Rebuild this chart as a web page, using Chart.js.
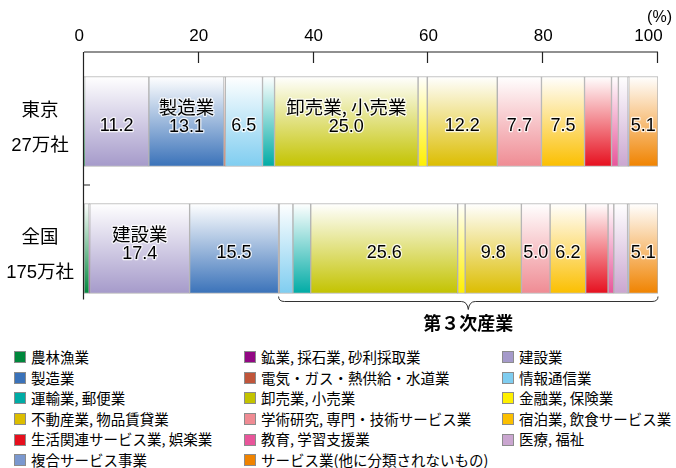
<!DOCTYPE html>
<html lang="ja">
<head>
<meta charset="utf-8">
<script src="https://cdn.jsdelivr.net/npm/chart.js@4.4.1/dist/chart.umd.min.js"></script>
<style>
  body { margin: 0; background: #fff; }
  #wrap { position: relative; width: 676px; height: 468px; overflow: hidden; }
  #chart { position: absolute; left: 0; top: 0; }
  #legend {
    position: absolute; left: 14px; top: 347px;
    display: grid; grid-template-columns: 230px 258px 160px;
    font: 14.5px "Noto Sans CJK JP", sans-serif; color: #000;
  }
  .item { display: flex; align-items: center; height: 20.6px; white-space: nowrap; line-height: 1; }
  .box { width: 10px; height: 10px; border: 1px solid #8c8c8c; margin-right: 5px; flex: none; }
</style>
</head>
<body>
<div id="wrap">
  <canvas id="chart" width="676" height="340"></canvas>
  <div id="legend"></div>
</div>
<script>
// 業種別の企業等数の構成比 (%)
const regions = [["東京", "27万社"], ["全国", "175万社"]];
const industries = [
    "農林漁業",
    "鉱業, 採石業, 砂利採取業",
    "建設業",
    "製造業",
    "電気・ガス・熱供給・水道業",
    "情報通信業",
    "運輸業, 郵便業",
    "卸売業, 小売業",
    "金融業, 保険業",
    "不動産業, 物品賃貸業",
    "学術研究, 専門・技術サービス業",
    "宿泊業, 飲食サービス業",
    "生活関連サービス業, 娯楽業",
    "教育, 学習支援業",
    "医療, 福祉",
    "複合サービス事業",
    "サービス業(他に分類されないもの)"
];
const tokyoShare = [0.1, 0.0, 11.2, 13.1, 0.2, 6.5, 2.1, 25.0, 1.6, 12.2, 7.7, 7.5, 4.7, 1.2, 1.7, 0.1, 5.1];
const zenkokuShare = [0.9, 0.1, 17.4, 15.5, 0.1, 2.4, 3.1, 25.6, 1.3, 9.8, 5.0, 6.2, 3.9, 1.0, 2.4, 0.2, 5.1];
const xTicks = [0, 20, 40, 60, 80, 100];

// 棒の中に業種名も書くもの (地域ごとの系列番号)
const namedSegments = [[3, 7], [2]];
// 第3次産業は電気・ガス以降
const tertiaryFrom = 4;

const colors = [
    "#00873c", "#920783", "#a59aca", "#3a72b9", "#c0553a", "#7fcdf0",
    "#00aba5", "#c3c300", "#fff000", "#dcbd00", "#ef8b93", "#fbbf00",
    "#e60f1e", "#e8559a", "#caa6d0", "#7b98cf", "#f08300"
];

const barThickness = 90;
const numFont = "Liberation Sans, 'Noto Sans CJK JP', sans-serif";
const jpFont = "'Noto Sans CJK JP', sans-serif";

function barFill(color) {
    return function(context) {
        const chart = context.chart;
        const y = chart.scales.y;
        if (context.type !== "data" || !y || !chart.chartArea) return color;
        const mid = y.getPixelForValue(context.dataIndex);
        if (!isFinite(mid)) return color;
        const g = chart.ctx.createLinearGradient(0, mid - barThickness / 2, 0, mid + barThickness / 2);
        g.addColorStop(0, "#ffffff");
        g.addColorStop(1, color);
        return g;
    };
}

// 目盛りラベルのはみ出し分で描画域が縮まないようにする
function fixedSize(prop, size) {
    return function(scale) {
        scale[prop] = size;
        scale.paddingLeft = 0;
        scale.paddingRight = 0;
        scale.paddingTop = 0;
        scale.paddingBottom = 0;
    };
}

const datasets = industries.map(function(name, i) {
    return {
        label: name,
        data: [tokyoShare[i], zenkokuShare[i]],
        backgroundColor: barFill(colors[i]),
        borderColor: "#b2b2b2",
        borderWidth: 1,
        borderSkipped: false,
        barThickness: barThickness
    };
});

// 上の目盛り線と左の軸線
const axisLines = {
    id: "axisLines",
    afterDatasetsDraw(chart) {
        const ctx = chart.ctx;
        const area = chart.chartArea;
        const x = chart.scales.x;
        const y = chart.scales.y;
        const axisY = area.top - 6;
        const lastBottom = y.getPixelForValue(regions.length - 1) + barThickness / 2;
        ctx.save();
        ctx.strokeStyle = "#222";
        ctx.lineWidth = 1.2;
        ctx.beginPath();
        ctx.moveTo(area.left, axisY);
        ctx.lineTo(area.right, axisY);
        xTicks.slice(1).forEach(function(v) {
            const px = Math.round(x.getPixelForValue(v)) - 0.5;
            ctx.moveTo(px, axisY);
            ctx.lineTo(px, axisY + 11);
        });
        ctx.moveTo(area.left - 0.5, axisY);
        ctx.lineTo(area.left - 0.5, lastBottom + 6);
        const sep = (y.getPixelForValue(0) + y.getPixelForValue(1)) / 2;
        ctx.moveTo(area.left, sep);
        ctx.lineTo(area.left + 6, sep);
        ctx.stroke();

        ctx.fillStyle = "#000";
        ctx.font = "16px " + numFont;
        ctx.textAlign = "right";
        ctx.textBaseline = "middle";
        ctx.fillText("(%)", area.right + 14, 18);
        ctx.restore();
    }
};

// 棒の中の数値と業種名
const segmentLabels = {
    id: "segmentLabels",
    afterDatasetsDraw(chart) {
        const ctx = chart.ctx;
        ctx.save();
        ctx.textAlign = "center";
        ctx.textBaseline = "middle";
        ctx.fillStyle = "#000";
        ctx.strokeStyle = "rgba(255,255,255,0.8)";
        ctx.lineWidth = 2.5;
        ctx.lineJoin = "round";
        chart.data.datasets.forEach(function(ds, di) {
            chart.getDatasetMeta(di).data.forEach(function(bar, ri) {
                const v = ds.data[ri];
                if (v < 5) return;
                const cx = (bar.x + bar.base) / 2;
                const named = namedSegments[ri].indexOf(di) >= 0;
                const text = v.toFixed(1);
                ctx.font = "18px " + numFont;
                if (named) {
                    ctx.strokeText(text, cx, bar.y + 6);
                    ctx.fillText(text, cx, bar.y + 6);
                    ctx.font = "18.5px " + jpFont;
                    ctx.strokeText(ds.label, cx, bar.y - 15);
                    ctx.fillText(ds.label, cx, bar.y - 15);
                } else {
                    ctx.strokeText(text, cx, bar.y + 5);
                    ctx.fillText(text, cx, bar.y + 5);
                }
            });
        });
        ctx.restore();
    }
};

// 全国の棒の下の第3次産業の括弧
const tertiaryBrace = {
    id: "tertiaryBrace",
    afterDatasetsDraw(chart) {
        const ctx = chart.ctx;
        const x = chart.scales.x;
        const y = chart.scales.y;
        const ri = regions.length - 1;
        let before = 0;
        for (let i = 0; i < tertiaryFrom; i++) before += zenkokuShare[i];
        const x0 = x.getPixelForValue(before);
        const x1 = x.getPixelForValue(100);
        const mid = (x0 + x1) / 2;
        const top = y.getPixelForValue(ri) + barThickness / 2 + 3;
        const line = top + 5;
        ctx.save();
        ctx.strokeStyle = "#333";
        ctx.lineWidth = 1;
        ctx.beginPath();
        ctx.moveTo(x0, top);
        ctx.quadraticCurveTo(x0, line, x0 + 6, line);
        ctx.lineTo(mid - 7, line);
        ctx.quadraticCurveTo(mid - 1, line, mid, line + 8);
        ctx.quadraticCurveTo(mid + 1, line, mid + 7, line);
        ctx.lineTo(x1 - 6, line);
        ctx.quadraticCurveTo(x1, line, x1, top);
        ctx.stroke();
        ctx.fillStyle = "#000";
        ctx.font = "bold 18px " + jpFont;
        ctx.textAlign = "center";
        ctx.textBaseline = "middle";
        ctx.fillText("第３次産業", mid, line + 22);
        ctx.restore();
    }
};

const chart = new Chart(document.getElementById("chart").getContext("2d"), {
    type: "bar",
    data: {
        labels: regions,
        datasets: datasets
    },
    options: {
        indexAxis: "y",
        responsive: false,
        animation: false,
        layout: { padding: { left: 0, right: 18, top: 0, bottom: 28 } },
        plugins: {
            legend: { display: false },
            tooltip: { enabled: false }
        },
        scales: {
            x: {
                stacked: true,
                position: "top",
                min: 0,
                max: 100,
                ticks: {
                    stepSize: 20,
                    padding: 11,
                    color: "#000",
                    font: { family: numFont, size: 17 },
                    // 両端の数字は少し左に寄せる
                    callback: function(value) {
                        if (value === 0) return "0  ";
                        if (value === 100) return "100    ";
                        return String(value);
                    }
                },
                grid: { display: false, drawTicks: false },
                border: { display: false },
                afterFit: fixedSize("height", 58)
            },
            y: {
                stacked: true,
                ticks: {
                    crossAlign: "center",
                    padding: 10,
                    labelOffset: 7,
                    color: "#000",
                    font: { family: numFont, size: 18.5, lineHeight: 1.85 }
                },
                grid: { display: false, drawTicks: false },
                border: { display: false },
                afterFit: fixedSize("width", 84)
            }
        }
    },
    plugins: [axisLines, segmentLabels, tertiaryBrace]
});

// 凡例 (3列)
const legend = document.getElementById("legend");
chart.data.datasets.forEach(function(ds, i) {
    const item = document.createElement("div");
    item.className = "item";
    const box = document.createElement("span");
    box.className = "box";
    box.style.background = colors[i];
    const label = document.createElement("span");
    label.textContent = ds.label;
    item.appendChild(box);
    item.appendChild(label);
    legend.appendChild(item);
});
</script>
</body>
</html>
